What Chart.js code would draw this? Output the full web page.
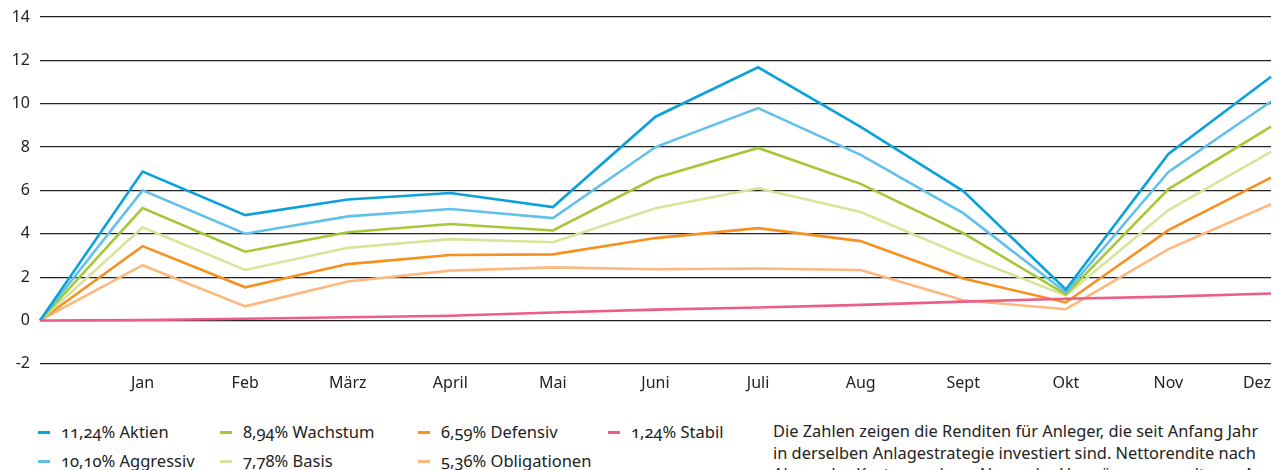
<!DOCTYPE html>
<html>
<head>
<meta charset="utf-8">
<script src="https://cdn.jsdelivr.net/npm/chart.js@4"></script>
<style>
  html, body { margin: 0; padding: 0; background: #fff; overflow: hidden; }
  body { width: 1281px; height: 470px; position: relative; font-family: "Noto Sans", sans-serif; color: #222; }
  #wrap { position: absolute; left: 0; top: 0; width: 1281px; height: 411px; }
  .leg { position: absolute; font-size: 16.5px; line-height: 20px; white-space: nowrap; font-feature-settings: "onum"; }
  .leg i { position: absolute; left: -23px; top: 9px; width: 12px; height: 3px; }
  #note { position: absolute; left: 773px; top: 420px; font-size: 16.4px; line-height: 21.5px; white-space: nowrap; }
</style>
</head>
<body>
<div id="wrap"><canvas id="chart"></canvas></div>
<div id="legend"></div>
<div id="note">Die Zahlen zeigen die Renditen für Anleger, die seit Anfang Jahr<br>in derselben Anlagestrategie investiert sind. Nettorendite nach<br>Abzug der Kosten und vor Abzug der Vermögensverwaltung. Aus</div>
<script>
// -------------------
// DATEN
// -------------------
const months = ["", "Jan", "Feb", "März", "April", "Mai", "Juni", "Juli", "Aug", "Sept", "Okt", "Nov", "Dez"];
const yTicks = [-2, 0, 2, 4, 6, 8, 10, 12, 14];

const aktien       = [0, 6.87, 4.86, 5.58, 5.88, 5.23, 9.4, 11.68, 8.93, 5.97, 1.43, 7.68, 11.24];
const aggressiv    = [0, 6.0, 4.0, 4.8, 5.14, 4.72, 8.0, 9.8, 7.64, 4.95, 1.3, 6.85, 10.10];
const wachstum     = [0, 5.18, 3.17, 4.07, 4.45, 4.15, 6.57, 7.96, 6.3, 4.03, 1.2, 6.06, 8.94];
const basis        = [0, 4.3, 2.33, 3.35, 3.75, 3.61, 5.18, 6.1, 5.0, 3.0, 1.15, 5.09, 7.78];
const defensiv     = [0, 3.43, 1.53, 2.6, 3.02, 3.05, 3.8, 4.26, 3.66, 1.94, 0.83, 4.17, 6.59];
const obligationen = [0, 2.55, 0.65, 1.8, 2.3, 2.45, 2.36, 2.4, 2.33, 0.93, 0.52, 3.29, 5.36];
const stabil       = [0, 0.02, 0.08, 0.15, 0.22, 0.37, 0.5, 0.6, 0.72, 0.87, 1.0, 1.1, 1.24];

const series = [
  { label: "11,24% Aktien",       data: aktien,       color: "#0ba2dc" },
  { label: "10,10% Aggressiv",    data: aggressiv,    color: "#62c1ea" },
  { label: "8,94% Wachstum",      data: wachstum,     color: "#a6c836" },
  { label: "7,78% Basis",         data: basis,        color: "#d5e69a" },
  { label: "6,59% Defensiv",      data: defensiv,     color: "#f7901e" },
  { label: "5,36% Obligationen",  data: obligationen, color: "#fdb880" },
  { label: "1,24% Stabil",        data: stabil,       color: "#ec5e86" }
];

// -------------------
// LEGENDE (HTML)
// -------------------
const legendPos = [
  [61, 422], [61, 451], [243, 422], [243, 451], [441, 422], [441, 451], [631, 422]
];
const legend = document.getElementById("legend");
series.forEach((s, i) => {
  const d = document.createElement("div");
  d.className = "leg";
  d.style.left = legendPos[i][0] + "px";
  d.style.top = legendPos[i][1] + "px";
  d.innerHTML = '<i style="background:' + s.color + '"></i>' + s.label;
  legend.appendChild(d);
});

// -------------------
// CHART.JS
// -------------------
const ctx = document.getElementById("chart").getContext("2d");
const chart = new Chart(ctx, {
  type: "line",
  data: {
    labels: months,
    datasets: series.map((s, i) => ({
      label: s.label,
      data: s.data,
      borderColor: s.color,
      backgroundColor: s.color,
      borderWidth: 2.6,
      pointRadius: 0,
      tension: 0,
      order: i === 6 ? -1 : i
    }))
  },
  options: {
    responsive: true,
    maintainAspectRatio: false,
    animation: false,
    layout: { padding: { top: 17, right: 4, bottom: 8, left: 0 } },
    plugins: { legend: { display: false }, tooltip: { enabled: false } },
    scales: {
      x: {
        grid: { display: false, drawTicks: false },
        border: { display: false },
        ticks: {
          color: "#222",
          font: { family: "Noto Sans", size: 16 },
          padding: 10,
          align: "inner",
          maxRotation: 0,
          autoSkip: false
        }
      },
      y: {
        min: -2,
        max: 14,
        afterFit: (scale) => { scale.width = 40; scale.paddingTop = 0; scale.paddingBottom = 0; },
        afterBuildTicks: (scale) => { scale.ticks = yTicks.map(v => ({ value: v })); },
        grid: { color: "#222", lineWidth: 1.2, drawTicks: false },
        border: { display: false },
        ticks: {
          color: "#222",
          font: { family: "Noto Sans", size: 16 },
          padding: 10
        }
      }
    }
  }
});
</script>
</body>
</html>
